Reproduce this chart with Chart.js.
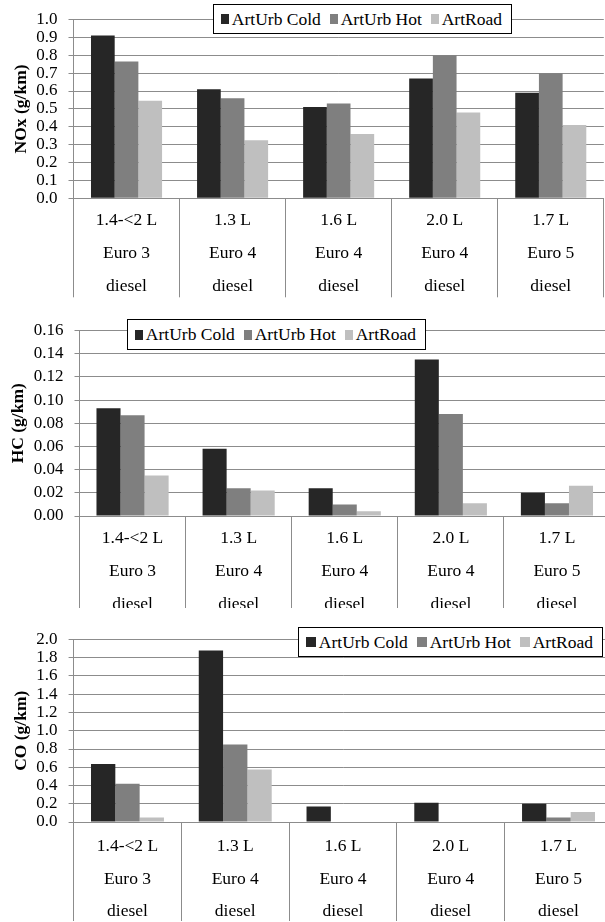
<!DOCTYPE html>
<html>
<head>
<meta charset="utf-8">
<script src="https://cdn.jsdelivr.net/npm/chart.js@4.4.1/dist/chart.umd.min.js"></script>
<style>
    html, body { margin: 0; padding: 0; background: #fff; }
    body { position: relative; width: 605px; height: 922px; overflow: hidden; }
    .panel { position: absolute; left: 0; width: 605px; overflow: hidden; }
    .panel canvas { position: absolute; left: 0; top: 0; }
    .legend {
        position: absolute; box-sizing: border-box; border: 1px solid #000; background: #fff;
        display: flex; align-items: center; padding-left: 7px; white-space: nowrap;
        font: 17.5px "Liberation Serif", serif; color: #000; z-index: 2;
    }
    .legend .sw { display: inline-block; width: 10px; height: 10px; margin-right: 3px; }
    .legend .lab { margin-right: 9px; }
</style>
</head>
<body>
<div class="panel" style="top:0;height:300px"><canvas id="nox-chart" width="605" height="300"></canvas></div>
<div class="panel" style="top:310px;height:298px"><canvas id="hc-chart" width="612" height="310"></canvas></div>
<div class="panel" style="top:620px;height:302px"><canvas id="co-chart" width="614" height="302"></canvas></div>
<div class="legend" id="nox-legend" style="left:213px;top:4px;width:299px;height:30px"></div>
<div class="legend" id="hc-legend" style="left:127px;top:319px;width:299px;height:31px"></div>
<div class="legend" id="co-legend" style="left:298px;top:627px;width:305px;height:30px"></div>
<script>
// vehicle groups (multi-level category labels)
const categories = [
    ['1.4-<2 L', 'Euro 3', 'diesel'],
    ['1.3 L', 'Euro 4', 'diesel'],
    ['1.6 L', 'Euro 4', 'diesel'],
    ['2.0 L', 'Euro 4', 'diesel'],
    ['1.7 L', 'Euro 5', 'diesel']
];
const seriesNames = ['ArtUrb Cold', 'ArtUrb Hot', 'ArtRoad'];
const seriesColors = ['#262626', '#7f7f7f', '#bfbfbf'];

// NOx (g/km)
const noxCold = [0.91, 0.61, 0.51, 0.67, 0.59];
const noxHot  = [0.765, 0.56, 0.53, 0.80, 0.70];
const noxRoad = [0.545, 0.325, 0.36, 0.48, 0.41];

// HC (g/km)
const hcCold = [0.093, 0.058, 0.024, 0.135, 0.020];
const hcHot  = [0.087, 0.024, 0.010, 0.088, 0.011];
const hcRoad = [0.035, 0.022, 0.004, 0.011, 0.026];

// CO (g/km)
const coCold = [0.635, 1.88, 0.17, 0.21, 0.20];
const coHot  = [0.42, 0.85, 0, 0, 0.05];
const coRoad = [0.05, 0.575, 0, 0, 0.11];

const serif = '"Liberation Serif", "Times New Roman", serif';
const gridColor = '#8c8c8c';

function buildLegend(id) {
    const box = document.getElementById(id);
    seriesNames.forEach((name, i) => {
        const sw = document.createElement('span');
        sw.className = 'sw';
        sw.style.background = seriesColors[i];
        const lab = document.createElement('span');
        lab.className = 'lab';
        lab.textContent = name;
        box.appendChild(sw);
        box.appendChild(lab);
    });
}

function buildChart(id, title, values, yMax, yStep, decimals, g) {
    return new Chart(document.getElementById(id), {
        type: 'bar',
        data: {
            labels: categories,
            datasets: seriesNames.map((name, i) => ({
                label: name,
                data: values[i],
                backgroundColor: seriesColors[i],
                borderWidth: 0,
                categoryPercentage: g.catPct,
                barPercentage: 1.0
            }))
        },
        options: {
            responsive: false,
            animation: false,
            layout: { padding: { top: g.top, bottom: g.bottom, left: 0, right: g.right } },
            plugins: { legend: { display: false }, tooltip: { enabled: false } },
            scales: {
                x: {
                    grid: { offset: true, drawOnChartArea: false, drawTicks: true, tickLength: 99, color: gridColor },
                    border: { color: gridColor },
                    ticks: {
                        padding: g.labelPad - 99,
                        maxRotation: 0,
                        autoSkip: false,
                        color: '#000',
                        font: { family: serif, size: 17.5, lineHeight: 1.866 }
                    },
                    afterFit: (s) => { s.height = 99; }
                },
                y: {
                    min: 0,
                    max: yMax,
                    grid: { color: gridColor, tickLength: 5 },
                    border: { color: gridColor },
                    ticks: {
                        stepSize: yStep,
                        autoSkip: false,
                        padding: 11,
                        color: '#000',
                        font: { family: serif, size: 17, lineHeight: 1 },
                        callback: (v) => Number(v).toFixed(decimals)
                    },
                    title: {
                        display: true,
                        text: title,
                        color: '#000',
                        font: { family: serif, size: 17.5, weight: 'bold' },
                        padding: { top: g.titlePad, bottom: 0 }
                    },
                    afterFit: (s) => { s.width = g.left; }
                }
            }
        }
    });
}

buildChart('nox-chart', 'NOx (g/km)', [noxCold, noxHot, noxRoad], 1.0, 0.1, 1,
    { left: 73.5, top: 13.5, bottom: 2.7, right: 1.2, catPct: 0.67, labelPad: 6, titlePad: 10.7 });
buildChart('hc-chart', 'HC (g/km)', [hcCold, hcHot, hcRoad], 0.16, 0.02, 2,
    { left: 79.5, top: 20.5, bottom: 5, right: 2, catPct: 0.68, labelPad: 6.5, titlePad: 8 });
buildChart('co-chart', 'CO (g/km)', [coCold, coHot, coRoad], 2.0, 0.2, 1,
    { left: 73.6, top: 14.7, bottom: 1, right: 1.6, catPct: 0.677, labelPad: 8, titlePad: 10.7 });

buildLegend('nox-legend');
buildLegend('hc-legend');
buildLegend('co-legend');
</script>
</body>
</html>
